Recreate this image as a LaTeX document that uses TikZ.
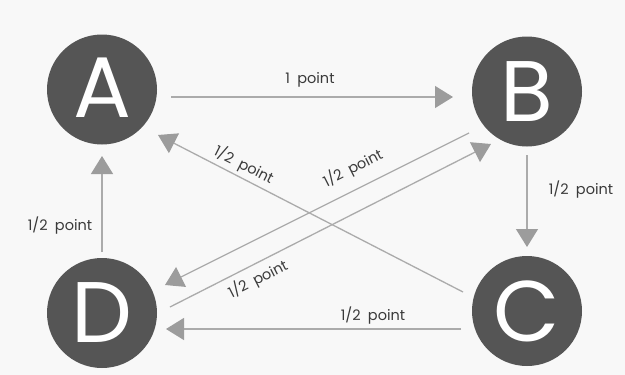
\documentclass[tikz,border=0pt]{standalone}
\usepackage{fontspec}
\usetikzlibrary{arrows.meta,calc}
\newfontfamily\geofont{Poppins}
\definecolor{bgcol}{HTML}{F8F8F8}
\definecolor{nodecol}{HTML}{555555}
\definecolor{linecol}{HTML}{ABABAB}
\definecolor{tipcol}{HTML}{9C9C9C}
\definecolor{textcol}{HTML}{3A3A3A}
\tikzset{
  circnode/.style={circle, fill=nodecol, minimum size=110pt, inner sep=0pt,
    text=white, font=\geofont\fontsize{86}{86}\selectfont},
  conn/.style={draw=linecol, line width=1.3pt,
    -{Triangle[length=18pt,width=22pt,color=tipcol]}},
  lab/.style={text=textcol, inner sep=1pt, font=\geofont\fontsize{14.5}{15}\selectfont}
}
\begin{document}
\begin{tikzpicture}[x=1pt,y=-1pt]
  \fill[bgcol] (0,0) rectangle (625,375);
  \useasboundingbox (0,0) rectangle (625,375);
  % nodes
  \node[circnode] (A) at (102,89.5) {\raisebox{4pt}{A}};
  \node[circnode] (B) at (527,91.5) {B};
  \node[circnode] (C) at (527,311) {C};
  \node[circnode] (D) at (102,313) {D};
  % connectors
  \draw[conn] ($(A.center)+(69,7.5)$) -- ($(B.center)+(-74,5.5)$);
  \draw[conn] ($(B.center)+(0,63.5)$) -- ($(C.center)+(0,-64)$);
  \draw[conn] ($(C.center)+(-66,18)$) -- ($(D.center)+(64,16)$);
  \draw[conn] ($(D.center)+(0,-61)$) -- ($(A.center)+(0,66.5)$);
  \draw[conn] ($(C.center)+(-64,-19)$) -- ($(A.center)+(56,45.5)$);
  \draw[conn] ($(B.center)+(-58,41.5)$) -- ($(D.center)+(63,-28)$);
  \draw[conn] ($(D.center)+(68,-6)$) -- ($(B.center)+(-36,52.5)$);
  % labels
  \node[lab] (lAB) at (310,80) {1\hspace{0.5em}point};
  \node[lab] (lBC) at (581,190) {1/2\hspace{0.5em}point};
  \node[lab] (lCD) at (373,316) {1/2\hspace{0.5em}point};
  \node[lab] (lDA) at (60,226) {1/2\hspace{0.5em}point};
  \node[lab, rotate=-27] (lCA) at (244,165) {1/2\hspace{0.5em}point};
  \node[lab, rotate=27] (lBD) at (353,168) {1/2\hspace{0.5em}point};
  \node[lab, rotate=27] (lDB) at (258,279) {1/2\hspace{0.5em}point};
\end{tikzpicture}
\end{document}
